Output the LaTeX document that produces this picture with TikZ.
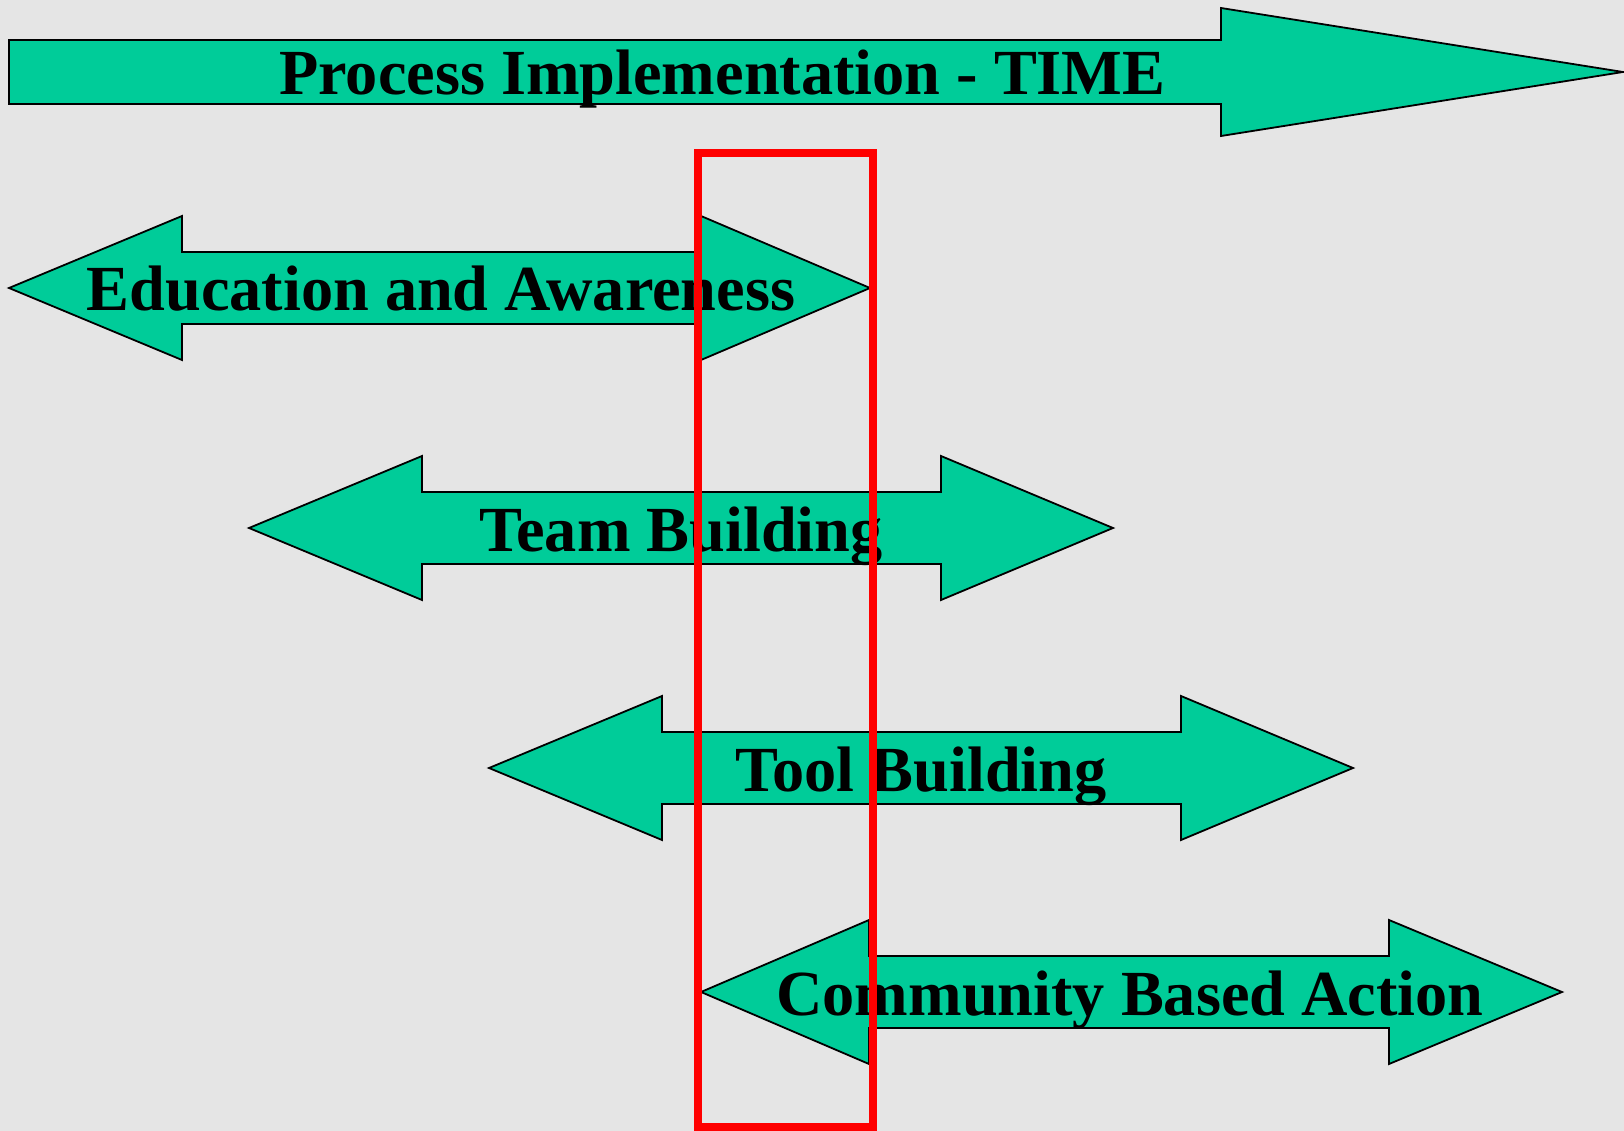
\documentclass[tikz,border=0pt]{standalone}
\usepackage{fontspec}
\setmainfont{Liberation Serif}
\definecolor{bgc}{RGB}{229,229,229}
\definecolor{arrowc}{RGB}{0,204,153}
\definecolor{framec}{RGB}{255,0,0}
\begin{document}
\begin{tikzpicture}[x=1pt,y=-1pt,
  arrowshape/.style={fill=arrowc,draw=black,line width=1.8pt,line join=miter},
  label/.style={font=\fontsize{64.3}{70}\selectfont\bfseries,inner sep=0pt,anchor=base},
  frame/.style={draw=framec,line width=8pt}]
\fill[bgc] (0,0) rectangle (1624,1131);
\useasboundingbox (0,0) rectangle (1624,1131);
% Process Implementation - TIME
\draw[arrowshape] (9,40) -- (1221,40) -- (1221,8) -- (1623,72) -- (1221,136) -- (1221,104) -- (9,104) -- cycle;
\node[label,anchor=base west] (ptime) at (279,95) {Process Implementation - TIME};
% double arrows: tip L, base L, base R, tip R, center y
\newcommand{\dblarrow}[5]{%
  \draw[arrowshape] (#1,#5) -- (#2,#5-72) -- (#2,#5-36) -- (#3,#5-36) -- (#3,#5-72)
    -- (#4,#5) -- (#3,#5+72) -- (#3,#5+36) -- (#2,#5+36) -- (#2,#5+72) -- cycle;}
\dblarrow{9}{182}{701}{870}{288}
\node[label] (edu) at (441,311) {Education and Awareness};
\dblarrow{249}{422}{941}{1113}{528}
\node[label] (team) at (681,551) {Team Building};
\dblarrow{489}{662}{1181}{1353}{768}
\node[label] (tool) at (921,791) {Tool Building};
\dblarrow{701}{869}{1389}{1562}{992}
\node[label] (comm) at (1130,1015) {Community Based Action};
% red frame
\draw[frame] (698,153) rectangle (873,1127);
\end{tikzpicture}
\end{document}
